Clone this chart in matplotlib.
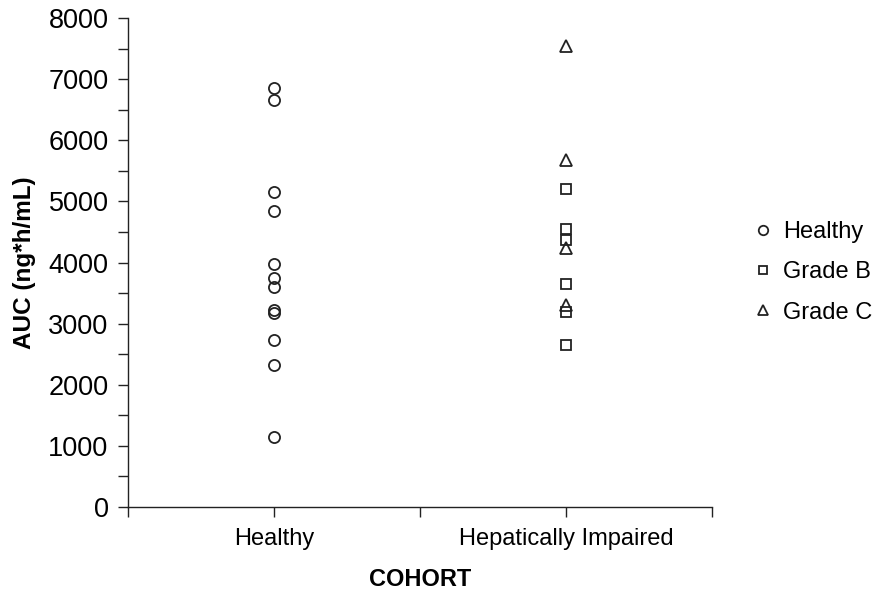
import matplotlib
matplotlib.use("Agg")
import matplotlib.pyplot as plt
from matplotlib.ticker import MultipleLocator

plt.rcParams['font.family'] = ['Liberation Sans', 'DejaVu Sans']

# datos (AUC, ng*h/mL)
cohortes = ['Healthy', 'Hepatically Impaired']
auc_healthy = [6850, 6660, 5160, 4850, 3975, 3740, 3605, 3225, 3180, 2730, 2320, 1150]
auc_grado_b = [5200, 4545, 4370, 3645, 3195, 2650]
auc_grado_c = [7545, 5680, 4235, 3310]

color = '#222222'
fig = plt.figure(figsize=(8.87, 5.96), dpi=100)
ax = fig.add_axes([0.1443, 0.1493, 0.6584, 0.8205])

estilo = dict(linestyle='none', markerfacecolor='none', markeredgecolor=color,
              markeredgewidth=1.3)
ax.plot([1] * len(auc_healthy), auc_healthy, marker='o', markersize=8,
        label='Healthy', **estilo)
ax.plot([2] * len(auc_grado_b), auc_grado_b, marker='s', markersize=7,
        label='Grade B', **estilo)
ax.plot([2] * len(auc_grado_c), auc_grado_c, marker='^', markersize=8,
        label='Grade C', **estilo)

ax.set_xlim(0.5, 2.5)
ax.set_ylim(0, 8000)
ax.set_xticks([0.5, 1, 1.5, 2, 2.5])
ax.set_xticklabels(['', cohortes[0], '', cohortes[1], ''])
ax.yaxis.set_major_locator(MultipleLocator(1000))
ax.yaxis.set_minor_locator(MultipleLocator(500))

for s in ['top', 'right']:
    ax.spines[s].set_visible(False)
for s in ['left', 'bottom']:
    ax.spines[s].set_color(color)
    ax.spines[s].set_linewidth(1.0)

ax.tick_params(axis='both', which='both', direction='out', length=7,
               width=1.0, color=color, labelcolor='black')
ax.tick_params(axis='y', pad=7, labelsize=19.5)
ax.tick_params(axis='x', pad=8, labelsize=17)

ax.set_xlabel('COHORT', fontsize=17, fontweight='bold', labelpad=13)
ax.set_ylabel('AUC (ng*h/mL)', fontsize=17.5, fontweight='bold', labelpad=9)

ax.legend(loc='center left', bbox_to_anchor=(1.035, 0.48), frameon=False,
          fontsize=17, markerscale=0.85, handlelength=0.8, handletextpad=0.45,
          labelspacing=0.78)

fig.savefig('out.png', dpi=100)
